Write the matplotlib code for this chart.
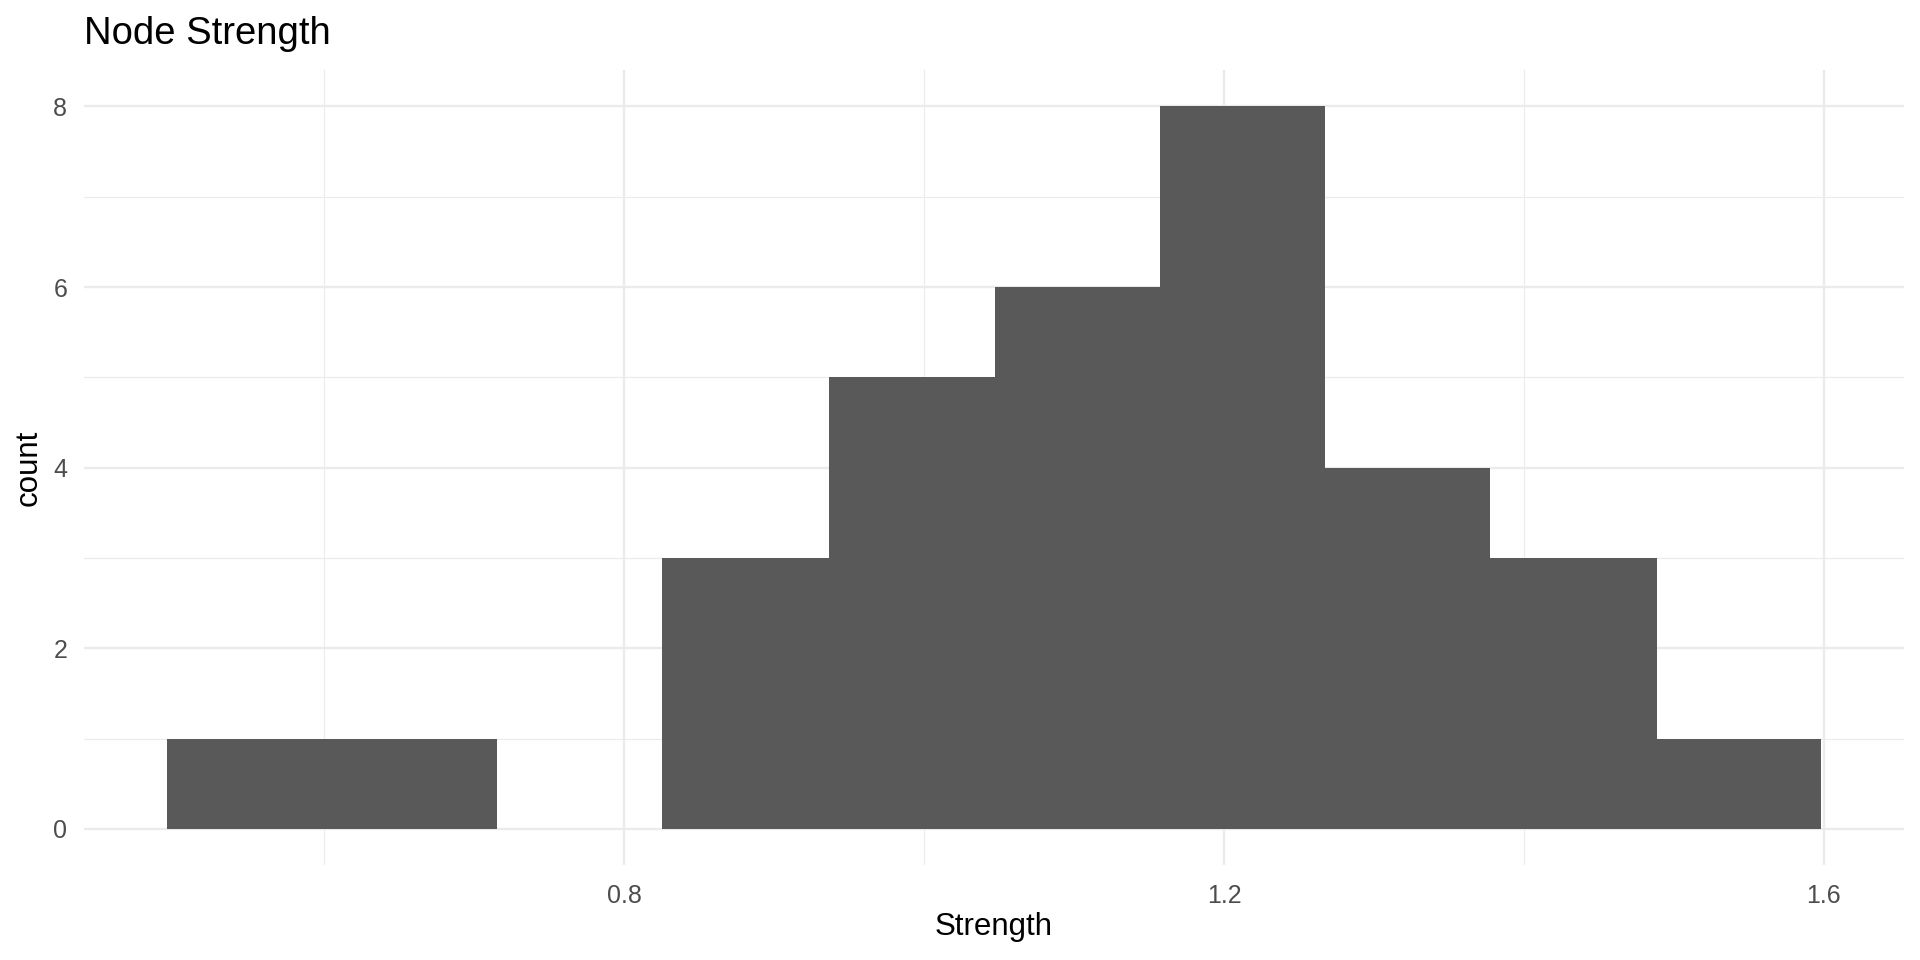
import numpy as np
import matplotlib
matplotlib.use("Agg")
import matplotlib.pyplot as plt

# histogram data
bin_edges = [0.495, 0.605, 0.715, 0.8255, 0.9365, 1.047, 1.1575, 1.2675, 1.3775, 1.4885, 1.598]
counts = [1, 1, 0, 3, 5, 6, 8, 4, 3, 1]
x_major = [0.8, 1.2, 1.6]
x_minor = [0.6, 1.0, 1.4]
y_major = [0, 2, 4, 6, 8]
y_minor = [1, 3, 5, 7]

plt.rcParams['font.family'] = ['Liberation Sans', 'DejaVu Sans']

fig = plt.figure(figsize=(19.2, 9.6), dpi=100)
ax = fig.add_axes([0.04375, 0.099, 0.9477, 0.8277])

edges = np.array(bin_edges)
ax.bar(edges[:-1], counts, width=np.diff(edges), align='edge',
       color='#595959', linewidth=0, zorder=3)

# limits with ggplot-like 5% expansion
xr = edges[-1] - edges[0]
ax.set_xlim(edges[0] - 0.05 * xr, edges[-1] + 0.05 * xr)
ax.set_ylim(-0.05 * max(counts), 1.05 * max(counts))

ax.set_xticks(x_major)
ax.set_xticks(x_minor, minor=True)
ax.set_yticks(y_major)
ax.set_yticks(y_minor, minor=True)
ax.set_xticklabels([str(v) for v in x_major])
ax.grid(which='major', color='#EBEBEB', linewidth=1.7, zorder=0)
ax.grid(which='minor', color='#EBEBEB', linewidth=0.85, zorder=0)
ax.tick_params(which='both', length=0, labelsize=18, labelcolor='#4D4D4D')
ax.tick_params(axis='x', pad=14)
ax.tick_params(axis='y', pad=12)
for s in ax.spines.values():
    s.set_visible(False)

fig.text(84 / 1920, 1 - 44 / 960, "Node Strength", fontsize=27.5, color='black',
         ha='left', va='baseline')
fig.text((84 + 1903) / 2 / 1920, 1 - 927 / 960, "Strength", fontsize=22.5,
         color='black', ha='center', va='center')
fig.text(29 / 1920, (0.099 + 0.9267) / 2, "count", fontsize=22.5, color='black',
         ha='center', va='center', rotation=90)

fig.savefig("out.png", dpi=100, facecolor='white')
